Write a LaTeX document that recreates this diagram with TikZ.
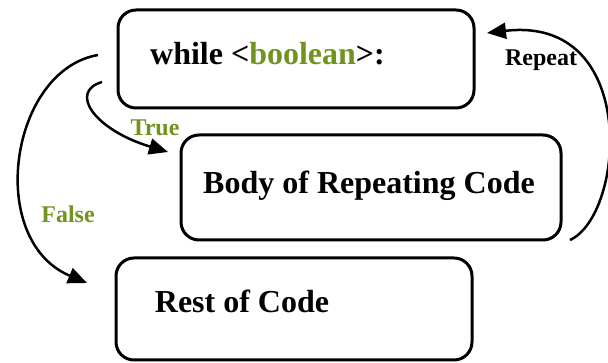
\documentclass[tikz,border=0pt]{standalone}
\usepackage{fontspec}
\setmainfont{Liberation Serif}
\usetikzlibrary{arrows.meta}
\definecolor{condgreen}{RGB}{112,148,30}
\begin{document}
\begin{tikzpicture}[x=1pt,y=-1pt,
  codebox/.style={draw, line width=3pt, rounded corners=18pt, inner sep=0pt},
  boxtext/.style={font=\bfseries\fontsize{32}{36}\selectfont, inner sep=0pt, anchor=base},
  flowlabel/.style={font=\bfseries\fontsize{24}{28}\selectfont, inner sep=0pt},
  flow/.style={line width=2.5pt, -{Triangle[length=19pt,width=16pt]}}]
\useasboundingbox (0,0) rectangle (608,363);
% boxes
\node[codebox, minimum width=356pt, minimum height=98pt] (loop) at (296,59) {};
\node[codebox, minimum width=380pt, minimum height=105pt] (body) at (371,187.5) {};
\node[codebox, minimum width=356pt, minimum height=102pt] (rest) at (294,309) {};
% box texts
\node[boxtext] (looptext) at (267.5,65) {while <\textcolor{condgreen}{boolean}>:};
\node[boxtext] (bodytext) at (369,194) {Body of Repeating Code};
\node[boxtext] (resttext) at (242,313) {Rest of Code};
% connector ends
\coordinate (falsestart) at (98,55);
\coordinate (falseend) at (87,283);
\coordinate (truestart) at (102,82);
\coordinate (trueend) at (168,152);
\coordinate (repstart) at (570,240);
\coordinate (repend) at (487,33);
% connectors
\draw[flow] (falsestart) .. controls (10,70) and (-15,240) .. (falseend);
\draw[flow] (truestart) .. controls (68,92) and (95,130) .. (trueend);
\draw[flow] (repstart) .. controls (625,215) and (640,15) .. (repend);
% labels
\node[flowlabel, text=condgreen] (truelbl) at (155,128) {True};
\node[flowlabel, text=condgreen] (falselbl) at (68,214) {False};
\node[flowlabel] (replbl) at (541,60) {Repeat};
\end{tikzpicture}
\end{document}
